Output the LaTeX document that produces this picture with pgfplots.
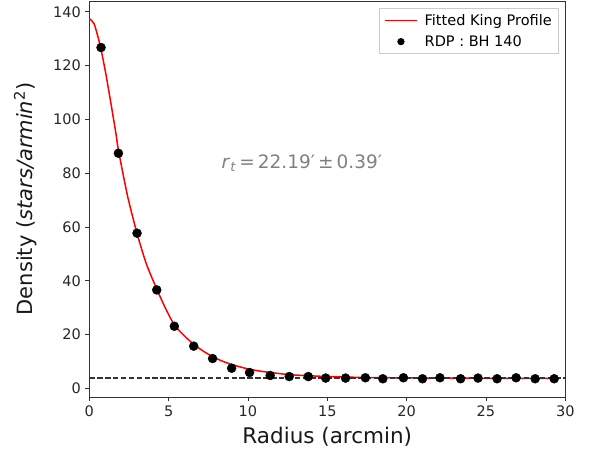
\documentclass[border=0pt]{standalone}
\usepackage{fontspec}
\setmainfont{DejaVu Sans}
\usepackage{pgfplots}
\pgfplotsset{compat=1.18}
\pgfplotsset{
  lineleg/.style={legend image code/.code={\draw[draw=red, line width=1.5bp, sharp corners] (0bp,0bp) -- (16bp,0bp) -- (32bp,0bp);}},
  dotleg/.style={legend image code/.code={\fill[black, sharp corners] (16bp,0bp) circle[radius=3.2bp];}},
}
\begin{document}
\begin{tikzpicture}
\begin{axis}[
  scale only axis, width=476bp, height=396bp,
  xmin=0, xmax=30, ymin=-3.2, ymax=144,
  xtick={0,5,...,30}, ytick={0,20,...,140},
  tick align=outside, xtick pos=bottom, ytick pos=left,
  major tick length=4bp,
  tick style={black!80, line width=0.8bp},
  axis line style={black!80, line width=0.8bp},
  tick label style={font=\fontsize{14.5bp}{16bp}\selectfont, text=black!85},
  /pgf/number format/assume math mode=true,
  xticklabel style={yshift=-1bp},
  yticklabel style={xshift=-1bp},
  legend style={at={(rel axis cs:0.987,0.982)}, anchor=north east,
    draw=black!20, fill=white, line width=0.8bp,
    font=\fontsize{14.5bp}{16bp}\selectfont, row sep=5bp,
    inner xsep=5bp, inner ysep=3.5bp,
    /tikz/every odd column/.append style={column sep=5bp}},
  legend cell align=left,
]
\addplot[color=red, line width=1.5bp, smooth, tension=0.4, lineleg]
  coordinates {
  (0,137.4) (0.3,135.6) (0.68,127.6) (1.04,117.0) (1.39,105.0) (1.69,94.3)
  (1.835,88.6) (2.4,71.8) (3.0,57.8) (3.6,46.2) (4.27,36.7) (4.8,29.8)
  (5.36,23.6) (6.0,19.5) (6.58,16.4) (7.2,13.8) (7.77,11.8) (8.4,10.1)
  (8.97,8.9) (9.5,8.0) (10.1,7.1) (10.8,6.4) (11.4,5.9) (12.0,5.5)
  (12.6,5.1) (13.5,4.8) (15.0,4.4) (17.0,4.1) (20.0,3.9) (25.0,3.75) (29.4,3.7)
  };
\addlegendentry{Fitted King Profile}
\addplot[only marks, mark=*, mark size=4.5bp, color=black, dotleg]
  coordinates {
  (0.74,126.7) (1.835,87.4) (3.01,57.7) (4.25,36.6) (5.36,23.1) (6.58,15.7)
  (7.77,11.1) (8.97,7.5) (10.1,5.9) (11.4,4.8) (12.6,4.4) (13.8,4.4)
  (14.9,3.83) (16.15,3.83) (17.4,3.95) (18.5,3.58) (19.8,3.95) (21.0,3.58)
  (22.1,3.95) (23.4,3.58) (24.5,3.83) (25.7,3.58) (26.9,3.95) (28.1,3.58)
  (29.3,3.58)
  };
\addlegendentry{RDP : BH 140}
\addplot[color=black!80, line width=2bp, dash pattern=on 5.5bp off 2.4bp, forget plot]
  coordinates {(0,3.7) (30,3.7)};
\node[text=black!50, font=\fontsize{18.5bp}{20bp}\selectfont] at (axis cs:13.4,83.7)
  {\textit{r}\textsubscript{\textit{t}}\,=\,22.19′\,±\,0.39′};
\end{axis}
\node[anchor=base, font=\fontsize{21.5bp}{24bp}\selectfont, text=black!90]
  at ([yshift=-46bp]current axis.south) {Radius (arcmin)};
\node[anchor=base, rotate=90, font=\fontsize{21bp}{24bp}\selectfont, text=black!90]
  at ([xshift=-57bp]current axis.west) {Density (\textit{stars/armin}\textsuperscript{2})};
\path ([xshift=-89.3bp,yshift=-56.7bp]current axis.south west) rectangle
  ([xshift=26.7bp,yshift=1bp]current axis.north east);
\end{tikzpicture}
\end{document}
